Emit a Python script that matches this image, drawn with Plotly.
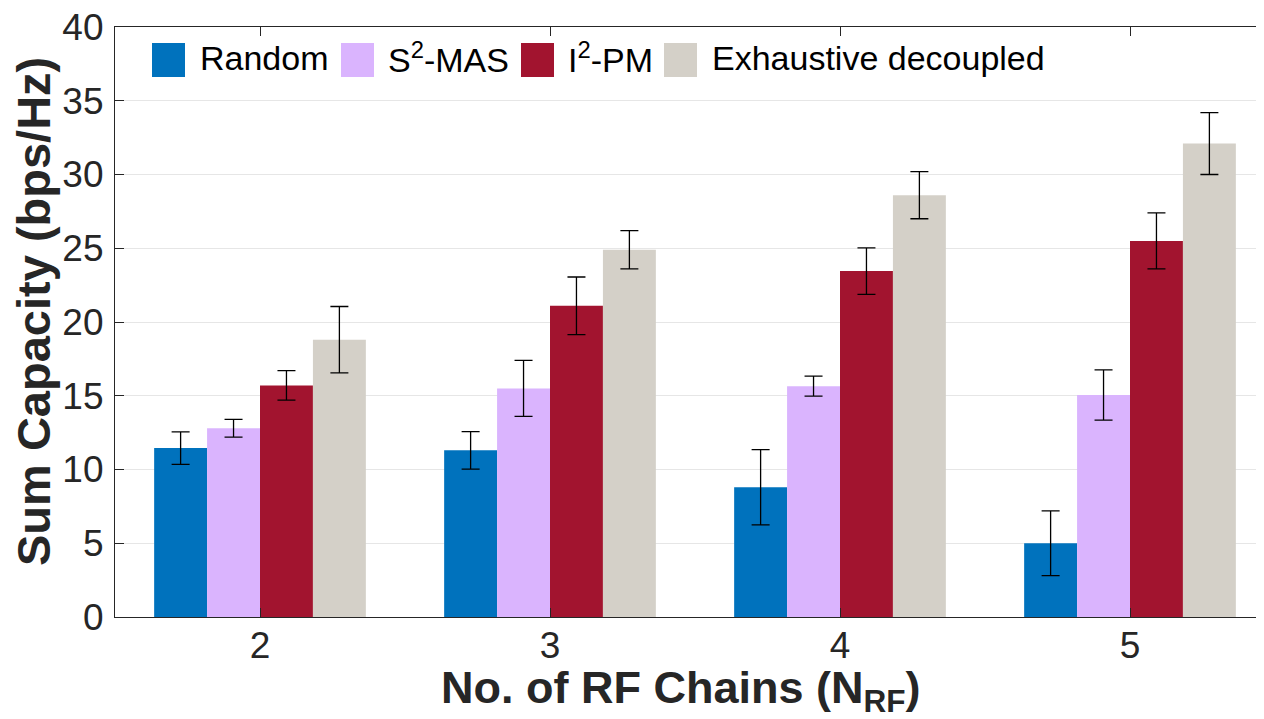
import plotly.graph_objects as go

# ---- data ----
rf_chains = [2, 3, 4, 5]
series_names = ["Random", "S<sup>2</sup>-MAS", "I<sup>2</sup>-PM", "Exhaustive decoupled"]
random_vals = [11.45, 11.3, 8.8, 5.0]
random_err = [1.1, 1.27, 2.55, 2.2]
s2mas_vals = [12.8, 15.5, 15.65, 15.05]
s2mas_err = [0.6, 1.9, 0.68, 1.7]
i2pm_vals = [15.7, 21.1, 23.45, 25.5]
i2pm_err = [1.0, 1.95, 1.58, 1.9]
exh_vals = [18.8, 24.9, 28.6, 32.1]
exh_err = [2.25, 1.3, 1.6, 2.1]
y_ticks = [0, 5, 10, 15, 20, 25, 30, 35, 40]

colors = ["#0072BD", "#DAB4FE", "#A2142F", "#D4D0C8"]
values = [random_vals, s2mas_vals, i2pm_vals, exh_vals]
errors = [random_err, s2mas_err, i2pm_err, exh_err]

OFF = 8  # page body margin
W, H = 1264 - OFF, 719 - OFF
ML, MR, MT = 115 - OFF, 0, 27 - OFF
MB = H - (617 - OFF)
PW, PH = W - ML - MR, H - MT - MB

fig = go.Figure()
for name, v, e, c in zip(series_names, values, errors, colors):
    fig.add_trace(go.Bar(
        x=rf_chains, y=v, name=name, marker=dict(color=c, line=dict(width=0)),
        error_y=dict(type="data", array=e, color="black", thickness=1.3, width=9),
        showlegend=False,
    ))

FONT = "Liberation Sans, Arial, Helvetica, sans-serif"

def px2paper_x(px):
    return (px - OFF - ML) / PW

def px2paper_y(py):
    return (H - MB - (py - OFF)) / PH

# manual legend (large swatches as in reference), screen pixel positions
legend_items = [(152, 185, 198), (341, 374, 386), (521, 554, 566), (664, 697, 710)]
shapes = []
annotations = []
for (x0, x1, tx), name, c in zip(legend_items, series_names, colors):
    shapes.append(dict(type="rect", xref="paper", yref="paper",
                       x0=px2paper_x(x0), x1=px2paper_x(x1),
                       y0=px2paper_y(77), y1=px2paper_y(43),
                       fillcolor=c, line=dict(width=0)))
    annotations.append(dict(text=name, xref="paper", yref="paper",
                            x=px2paper_x(tx), y=px2paper_y(58),
                            xanchor="left", yanchor="middle", showarrow=False,
                            font=dict(family=FONT, size=34, color="black")))

# axis titles
annotations.append(dict(text="<b>Sum Capacity (bps/Hz)</b>", xref="paper", yref="paper",
                        x=px2paper_x(33), y=px2paper_y(312), textangle=-90,
                        xanchor="center", yanchor="middle", showarrow=False,
                        font=dict(family=FONT, size=47, color="#262626")))
annotations.append(dict(text="<b>No. of RF Chains (N<sub>RF</sub>)</b>", xref="paper", yref="paper",
                        x=px2paper_x(680), y=px2paper_y(690),
                        xanchor="center", yanchor="middle", showarrow=False,
                        font=dict(family=FONT, size=45, color="#262626")))

fig.update_layout(
    width=W, height=H,
    margin=dict(l=ML, r=MR, t=MT, b=MB, autoexpand=False),
    plot_bgcolor="white", paper_bgcolor="white",
    barmode="group", bargap=0.27, bargroupgap=0,
    font=dict(family=FONT, size=38, color="#262626"),
    shapes=shapes, annotations=annotations,
    xaxis=dict(
        range=[1.5, 1.5 + PW / 290.0],
        tickvals=rf_chains, ticktext=[str(v) for v in rf_chains],
        ticks="inside", ticklen=9, tickcolor="#262626",
        showline=True, linecolor="#262626", linewidth=1.2, mirror="ticks",
        showgrid=False, zeroline=False, automargin=False,
        ticklabelstandoff=-5,
        tickfont=dict(size=37, color="#262626"),
    ),
    yaxis=dict(
        range=[0, 40], tickvals=y_ticks,
        ticks="inside", ticklen=9, tickcolor="#262626",
        showline=True, linecolor="#262626", linewidth=1.2, mirror=False,
        showgrid=True, gridcolor="#E6E6E6", gridwidth=1.2, zeroline=False,
        automargin=False, ticklabeloverflow="allow", ticklabelstandoff=3,
        tickfont=dict(size=37, color="#262626"),
    ),
)

fig.write_html("out.html")
